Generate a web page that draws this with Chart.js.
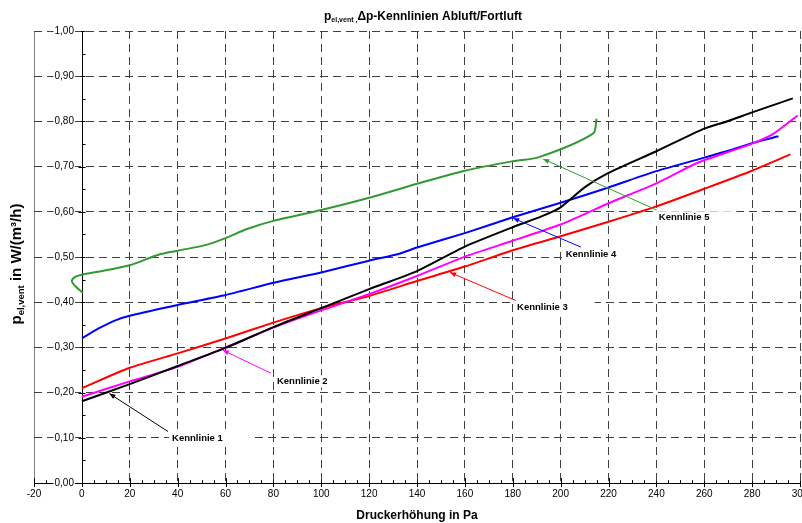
<!DOCTYPE html>
<html>
<head>
<meta charset="utf-8">
<script src="https://cdn.jsdelivr.net/npm/chart.js@4.4.1/dist/chart.umd.min.js"></script>
<style>
  html, body { margin: 0; padding: 0; background: #fff; }
  #wrap { width: 802px; height: 523px; }
</style>
</head>
<body>
<div id="wrap"><canvas id="chartCanvas"></canvas></div>
<script>
// Druckerhöhung (Pa) / p_el,vent (W/(m³/h)) pairs
const kennlinie1 = [[0,0.181],[20,0.219],[40,0.259],[60,0.299],[80,0.345],[100,0.387],[120,0.429],[140,0.469],[160,0.523],[180,0.566],[192,0.590],[200,0.610],[210,0.654],[220,0.686],[240,0.734],[260,0.784],[270,0.801],[280,0.820],[297,0.851]];
const kennlinie2 = [[0,0.191],[20,0.225],[40,0.257],[60,0.300],[80,0.344],[100,0.382],[120,0.418],[140,0.458],[160,0.501],[180,0.536],[200,0.572],[210,0.595],[220,0.619],[240,0.663],[255,0.703],[260,0.714],[280,0.751],[289,0.773],[299,0.813]];
const kennlinie3 = [[0,0.210],[20,0.255],[40,0.287],[60,0.320],[80,0.355],[100,0.387],[120,0.414],[140,0.447],[160,0.479],[180,0.515],[200,0.546],[220,0.578],[240,0.612],[260,0.651],[280,0.691],[296,0.727]];
const kennlinie4 = [[0,0.320],[7,0.342],[14,0.360],[20,0.370],[40,0.394],[60,0.416],[80,0.443],[100,0.466],[120,0.492],[133,0.508],[140,0.521],[160,0.553],[180,0.588],[200,0.620],[220,0.654],[240,0.690],[260,0.720],[270,0.735],[280,0.752],[291,0.767]];
const kennlinie5 = [[0.4,0.421],[-2.8,0.436],[-4.2,0.447],[-2.8,0.456],[0,0.461],[5,0.466],[20,0.482],[32,0.505],[40,0.514],[52,0.527],[60,0.542],[69,0.562],[80,0.580],[100,0.604],[120,0.631],[140,0.662],[160,0.691],[180,0.712],[191,0.721],[213.5,0.773],[215,0.806]];

const seriesNames = ['Kennlinie 1', 'Kennlinie 2', 'Kennlinie 3', 'Kennlinie 4', 'Kennlinie 5'];
const seriesColors = ['#000000', '#ff00ff', '#ff0000', '#0000ff', '#339933'];
const seriesData = [kennlinie1, kennlinie2, kennlinie3, kennlinie4, kennlinie5];

// callouts: arrow tip on the curve, arrow tail, text anchor (all in data units)
const calloutTips = [[11.5,0.198],[58.9,0.294],[153.8,0.466],[180.2,0.586],[192.7,0.717]];
const calloutTails = [[36.0,0.114],[79.0,0.243],[181.2,0.404],[208.5,0.522],[240.1,0.604]];
const calloutText = [[37.7,0.099],[81.5,0.225],[181.8,0.388],[202.1,0.505],[241.0,0.588]];

const FONT = "'Liberation Sans', Arial, sans-serif";
const GRID = '#404040';

function drawRich(ctx, parts, x, y) {
  // parts drawn left to right, centred on x
  let total = 0;
  parts.forEach(p => {
    ctx.font = `bold ${p.size}px ${FONT}`;
    p.w = ctx.measureText(p.t).width;
    total += p.w;
  });
  let cx = x - total / 2;
  ctx.textBaseline = 'alphabetic';
  ctx.textAlign = 'left';
  parts.forEach(p => {
    ctx.font = `bold ${p.size}px ${FONT}`;
    ctx.fillText(p.t, cx, y + (p.dy || 0));
    cx += p.w;
  });
}

const decorations = {
  id: 'decorations',
  beforeDraw(chart) {
    const { ctx, chartArea: a, scales: { x, y } } = chart;
    ctx.save();
    // left frame line
    ctx.strokeStyle = '#808080';
    ctx.lineWidth = 1;
    ctx.beginPath();
    ctx.moveTo(Math.round(a.left) + 0.5, a.top);
    ctx.lineTo(Math.round(a.left) + 0.5, a.bottom);
    ctx.stroke();
    // y axis line at 0 Pa and tick marks
    const x0 = Math.round(x.getPixelForValue(0)) + 0.5;
    ctx.strokeStyle = '#000';
    ctx.beginPath();
    ctx.moveTo(x0, a.top);
    ctx.lineTo(x0, a.bottom);
    for (let v = -20; v <= 300; v += 5) {
      const px = Math.round(x.getPixelForValue(v)) + 0.5;
      const major = v % 20 === 0;
      ctx.moveTo(px, a.bottom - (major ? 5 : 3));
      ctx.lineTo(px, a.bottom + (major ? 4 : 0));
    }
    for (let i = 0; i <= 20; i++) {
      const py = Math.round(y.getPixelForValue(i * 0.05)) + 0.5;
      const major = i % 2 === 0;
      ctx.moveTo(x0 - (major ? 4 : 0), py);
      ctx.lineTo(x0 + 3, py);
    }
    ctx.stroke();
    ctx.restore();
  },
  beforeDatasetsDraw(chart) {
    const { ctx, scales: { x, y } } = chart;
    ctx.save();
    ctx.font = `bold 9.5px ${FONT}`;
    ctx.fillStyle = '#fff';
    calloutText.forEach((p, i) => {
      const w = ctx.measureText(seriesNames[i]).width;
      ctx.fillRect(x.getPixelForValue(p[0]) - 3, y.getPixelForValue(p[1]) - 6, w + 30, 12);
    });
    ctx.restore();
  },
  afterDatasetsDraw(chart) {
    const { ctx, scales: { x, y } } = chart;
    ctx.save();
    calloutTips.forEach((tip, i) => {
      const tx = x.getPixelForValue(tip[0]), ty = y.getPixelForValue(tip[1]);
      const sx = x.getPixelForValue(calloutTails[i][0]), sy = y.getPixelForValue(calloutTails[i][1]);
      ctx.strokeStyle = seriesColors[i];
      ctx.fillStyle = seriesColors[i];
      ctx.lineWidth = 1;
      ctx.beginPath();
      ctx.moveTo(sx, sy);
      ctx.lineTo(tx, ty);
      ctx.stroke();
      const ang = Math.atan2(ty - sy, tx - sx);
      ctx.beginPath();
      ctx.moveTo(tx, ty);
      ctx.lineTo(tx - 6 * Math.cos(ang) + 2.5 * Math.sin(ang), ty - 6 * Math.sin(ang) - 2.5 * Math.cos(ang));
      ctx.lineTo(tx - 6 * Math.cos(ang) - 2.5 * Math.sin(ang), ty - 6 * Math.sin(ang) + 2.5 * Math.cos(ang));
      ctx.closePath();
      ctx.fill();
    });
    ctx.fillStyle = '#000';
    ctx.font = `bold 9.5px ${FONT}`;
    ctx.textAlign = 'left';
    ctx.textBaseline = 'middle';
    calloutText.forEach((p, i) => {
      ctx.fillText(seriesNames[i], x.getPixelForValue(p[0]), y.getPixelForValue(p[1]));
    });
    ctx.restore();
  },
  afterDraw(chart) {
    const { ctx, chartArea: a } = chart;
    ctx.save();
    ctx.fillStyle = '#000';
    drawRich(ctx, [
      { t: 'p', size: 12 },
      { t: 'el,vent ,', size: 7, dy: 2 },
      { t: 'Δp-Kennlinien Abluft/Fortluft', size: 12 }
    ], (a.left + a.right) / 2 + 6, 20);
    ctx.translate(21, (a.top + a.bottom) / 2 + 7);
    ctx.rotate(-Math.PI / 2);
    drawRich(ctx, [
      { t: 'p', size: 15 },
      { t: 'el,vent', size: 9.5, dy: 3 },
      { t: ' in W/(m³/h)', size: 15 }
    ], 0, 0);
    ctx.restore();
  }
};

const ctx = document.getElementById('chartCanvas').getContext('2d');
const chart = new Chart(ctx, {
  type: 'scatter',
  data: {
    datasets: seriesData.map((d, i) => ({
      label: seriesNames[i],
      data: d.map(p => ({ x: p[0], y: p[1] })),
      borderColor: seriesColors[i],
      backgroundColor: seriesColors[i],
      showLine: true,
      pointRadius: 0,
      borderWidth: 2,
      tension: i === 4 ? 0.3 : 0.2
    }))
  },
  options: {
    responsive: true,
    maintainAspectRatio: false,
    animation: false,
    layout: { padding: { top: 31, left: 34, right: 2, bottom: 0 } },
    plugins: {
      legend: { display: false },
      tooltip: { enabled: false },
      title: { display: false }
    },
    scales: {
      x: {
        type: 'linear',
        position: 'bottom',
        min: -20,
        max: 300,
        afterFit: s => { s.paddingRight = 0; },
        ticks: {
          stepSize: 20,
          autoSkip: false,
          maxRotation: 0,
          padding: 5,
          color: '#000',
          font: { family: FONT, size: 10 }
        },
        grid: {
          drawTicks: false,
          lineWidth: 1,
          color: c => (c.tick && (c.tick.value === -20 || c.tick.value === 0)) ? 'rgba(0,0,0,0)' : GRID
        },
        border: { display: true, color: '#000', width: 1, dash: [8, 5] },
        title: {
          display: true,
          text: 'Druckerhöhung in Pa',
          color: '#000',
          font: { family: FONT, size: 12, weight: 'bold' },
          padding: { top: 3.5, bottom: 0 }
        }
      },
      y: {
        type: 'linear',
        // labels sit just left of the 0 Pa axis line
        position: { x: -3.3 },
        min: 0,
        max: 1,
        ticks: {
          stepSize: 0.1,
          padding: 0,
          color: '#000',
          font: { family: FONT, size: 10 },
          showLabelBackdrop: true,
          backdropColor: '#fff',
          backdropPadding: 1,
          callback: v => v.toFixed(2).replace('.', ',')
        },
        grid: {
          drawTicks: false,
          lineWidth: 1,
          color: c => (c.tick && c.tick.value === 0) ? 'rgba(0,0,0,0)' : GRID
        },
        border: { display: false, dash: [8, 5] }
      }
    }
  },
  plugins: [decorations]
});
</script>
</body>
</html>
